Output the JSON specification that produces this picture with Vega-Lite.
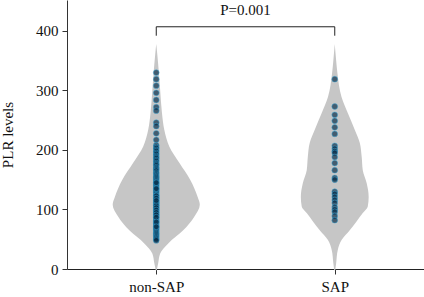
{
  "$schema": "https://vega.github.io/schema/vega-lite/v6.json",
  "width": 357,
  "height": 269,
  "autosize": {"type": "none"},
  "padding": {"left": 67, "top": 0, "right": 0, "bottom": 28},
  "background": "white",
  "config": {
    "view": {"stroke": null},
    "font": "Liberation Serif",
    "axis": {"labelFont": "Liberation Serif", "titleFont": "Liberation Serif", "labelFontSize": 15, "titleFontSize": 15, "labelColor": "#111", "titleColor": "#111", "domainColor": "#333", "tickColor": "#333", "grid": false, "titleFontWeight": "normal"}
  },
  "datasets": {
    "violin": [
      {"group": "non-SAP", "v": 378, "lo": 0.5, "hi": 0.5},
      {"group": "non-SAP", "v": 360, "lo": 0.494, "hi": 0.506},
      {"group": "non-SAP", "v": 329, "lo": 0.485, "hi": 0.515},
      {"group": "non-SAP", "v": 300, "lo": 0.478, "hi": 0.522},
      {"group": "non-SAP", "v": 262, "lo": 0.468, "hi": 0.532},
      {"group": "non-SAP", "v": 234, "lo": 0.455, "hi": 0.545},
      {"group": "non-SAP", "v": 206, "lo": 0.427, "hi": 0.573},
      {"group": "non-SAP", "v": 178, "lo": 0.37, "hi": 0.63},
      {"group": "non-SAP", "v": 150, "lo": 0.31, "hi": 0.69},
      {"group": "non-SAP", "v": 121, "lo": 0.268, "hi": 0.732},
      {"group": "non-SAP", "v": 108, "lo": 0.256, "hi": 0.744},
      {"group": "non-SAP", "v": 88, "lo": 0.287, "hi": 0.713},
      {"group": "non-SAP", "v": 65, "lo": 0.349, "hi": 0.651},
      {"group": "non-SAP", "v": 43, "lo": 0.433, "hi": 0.567},
      {"group": "non-SAP", "v": 26, "lo": 0.478, "hi": 0.522},
      {"group": "non-SAP", "v": 10, "lo": 0.489, "hi": 0.511},
      {"group": "non-SAP", "v": -2, "lo": 0.497, "hi": 0.503},
      {"group": "SAP", "v": 378, "lo": 1.5, "hi": 1.5},
      {"group": "SAP", "v": 350, "lo": 1.492, "hi": 1.508},
      {"group": "SAP", "v": 329, "lo": 1.485, "hi": 1.515},
      {"group": "SAP", "v": 289, "lo": 1.462, "hi": 1.538},
      {"group": "SAP", "v": 262, "lo": 1.427, "hi": 1.573},
      {"group": "SAP", "v": 234, "lo": 1.388, "hi": 1.612},
      {"group": "SAP", "v": 212, "lo": 1.36, "hi": 1.64},
      {"group": "SAP", "v": 188, "lo": 1.349, "hi": 1.651},
      {"group": "SAP", "v": 166, "lo": 1.343, "hi": 1.657},
      {"group": "SAP", "v": 144, "lo": 1.321, "hi": 1.679},
      {"group": "SAP", "v": 121, "lo": 1.31, "hi": 1.69},
      {"group": "SAP", "v": 105, "lo": 1.315, "hi": 1.685},
      {"group": "SAP", "v": 94, "lo": 1.343, "hi": 1.657},
      {"group": "SAP", "v": 65, "lo": 1.416, "hi": 1.584},
      {"group": "SAP", "v": 49, "lo": 1.461, "hi": 1.539},
      {"group": "SAP", "v": 32, "lo": 1.483, "hi": 1.517},
      {"group": "SAP", "v": 10, "lo": 1.492, "hi": 1.508},
      {"group": "SAP", "v": -2, "lo": 1.497, "hi": 1.503}
    ],
    "points": [
      {"group": "non-SAP", "plr": 330}, {"group": "non-SAP", "plr": 319}, {"group": "non-SAP", "plr": 308}, {"group": "non-SAP", "plr": 296}, {"group": "non-SAP", "plr": 284}, {"group": "non-SAP", "plr": 272}, {"group": "non-SAP", "plr": 266}, {"group": "non-SAP", "plr": 246}, {"group": "non-SAP", "plr": 240}, {"group": "non-SAP", "plr": 228}, {"group": "non-SAP", "plr": 217},
      {"group": "non-SAP", "plr": 208}, {"group": "non-SAP", "plr": 205}, {"group": "non-SAP", "plr": 203}, {"group": "non-SAP", "plr": 200}, {"group": "non-SAP", "plr": 198}, {"group": "non-SAP", "plr": 195}, {"group": "non-SAP", "plr": 193}, {"group": "non-SAP", "plr": 190}, {"group": "non-SAP", "plr": 188}, {"group": "non-SAP", "plr": 186}, {"group": "non-SAP", "plr": 183}, {"group": "non-SAP", "plr": 181}, {"group": "non-SAP", "plr": 178}, {"group": "non-SAP", "plr": 176}, {"group": "non-SAP", "plr": 174}, {"group": "non-SAP", "plr": 171}, {"group": "non-SAP", "plr": 169}, {"group": "non-SAP", "plr": 167}, {"group": "non-SAP", "plr": 165}, {"group": "non-SAP", "plr": 162}, {"group": "non-SAP", "plr": 160}, {"group": "non-SAP", "plr": 158}, {"group": "non-SAP", "plr": 156}, {"group": "non-SAP", "plr": 154}, {"group": "non-SAP", "plr": 152}, {"group": "non-SAP", "plr": 150}, {"group": "non-SAP", "plr": 148}, {"group": "non-SAP", "plr": 146}, {"group": "non-SAP", "plr": 144}, {"group": "non-SAP", "plr": 142}, {"group": "non-SAP", "plr": 140}, {"group": "non-SAP", "plr": 138}, {"group": "non-SAP", "plr": 136}, {"group": "non-SAP", "plr": 134}, {"group": "non-SAP", "plr": 132}, {"group": "non-SAP", "plr": 130}, {"group": "non-SAP", "plr": 128}, {"group": "non-SAP", "plr": 126}, {"group": "non-SAP", "plr": 124}, {"group": "non-SAP", "plr": 122}, {"group": "non-SAP", "plr": 120}, {"group": "non-SAP", "plr": 118}, {"group": "non-SAP", "plr": 116}, {"group": "non-SAP", "plr": 114}, {"group": "non-SAP", "plr": 112}, {"group": "non-SAP", "plr": 110}, {"group": "non-SAP", "plr": 108}, {"group": "non-SAP", "plr": 106}, {"group": "non-SAP", "plr": 104}, {"group": "non-SAP", "plr": 102}, {"group": "non-SAP", "plr": 100}, {"group": "non-SAP", "plr": 98}, {"group": "non-SAP", "plr": 96}, {"group": "non-SAP", "plr": 94}, {"group": "non-SAP", "plr": 92}, {"group": "non-SAP", "plr": 90}, {"group": "non-SAP", "plr": 88}, {"group": "non-SAP", "plr": 86}, {"group": "non-SAP", "plr": 84}, {"group": "non-SAP", "plr": 82}, {"group": "non-SAP", "plr": 80}, {"group": "non-SAP", "plr": 78}, {"group": "non-SAP", "plr": 76}, {"group": "non-SAP", "plr": 74}, {"group": "non-SAP", "plr": 72}, {"group": "non-SAP", "plr": 70}, {"group": "non-SAP", "plr": 68}, {"group": "non-SAP", "plr": 66}, {"group": "non-SAP", "plr": 64}, {"group": "non-SAP", "plr": 62}, {"group": "non-SAP", "plr": 60}, {"group": "non-SAP", "plr": 58}, {"group": "non-SAP", "plr": 56}, {"group": "non-SAP", "plr": 54}, {"group": "non-SAP", "plr": 52}, {"group": "non-SAP", "plr": 50}, {"group": "non-SAP", "plr": 48},
      {"group": "non-SAP", "plr": 111}, {"group": "non-SAP", "plr": 107}, {"group": "non-SAP", "plr": 103}, {"group": "non-SAP", "plr": 99}, {"group": "non-SAP", "plr": 95}, {"group": "non-SAP", "plr": 91}, {"group": "non-SAP", "plr": 87}, {"group": "non-SAP", "plr": 123}, {"group": "non-SAP", "plr": 119}, {"group": "non-SAP", "plr": 115}, {"group": "non-SAP", "plr": 135}, {"group": "non-SAP", "plr": 145}, {"group": "non-SAP", "plr": 79}, {"group": "non-SAP", "plr": 71},
      {"group": "SAP", "plr": 319}, {"group": "SAP", "plr": 273}, {"group": "SAP", "plr": 259}, {"group": "SAP", "plr": 249}, {"group": "SAP", "plr": 238}, {"group": "SAP", "plr": 227}, {"group": "SAP", "plr": 207}, {"group": "SAP", "plr": 202}, {"group": "SAP", "plr": 198}, {"group": "SAP", "plr": 195}, {"group": "SAP", "plr": 188}, {"group": "SAP", "plr": 178}, {"group": "SAP", "plr": 166}, {"group": "SAP", "plr": 153}, {"group": "SAP", "plr": 150}, {"group": "SAP", "plr": 130}, {"group": "SAP", "plr": 126}, {"group": "SAP", "plr": 121}, {"group": "SAP", "plr": 116}, {"group": "SAP", "plr": 111}, {"group": "SAP", "plr": 104}, {"group": "SAP", "plr": 100}, {"group": "SAP", "plr": 96}, {"group": "SAP", "plr": 89}, {"group": "SAP", "plr": 82}
    ],
    "annot": [{"label": "P=0.001"}]
  },
  "layer": [
    {
      "data": {"name": "violin"},
      "mark": {"type": "area", "orient": "horizontal", "color": "#c6c6c6", "opacity": 1, "interpolate": "monotone"},
      "encoding": {
        "y": {"field": "v", "type": "quantitative", "scale": {"domain": [0, 452], "nice": false, "zero": false}, "axis": {"values": [0, 100, 200, 300, 400], "title": "PLR levels", "tickSize": 5, "labelPadding": 4, "titlePadding": 20}},
        "x": {"field": "lo", "type": "quantitative", "scale": {"domain": [0, 2], "nice": false, "zero": false}, "axis": null},
        "x2": {"field": "hi"},
        "detail": {"field": "group"}
      }
    },
    {
      "data": {"name": "points"},
      "mark": {"type": "point", "filled": true, "fill": "#052a45", "fillOpacity": 0.68, "stroke": "#3fb4e6", "strokeWidth": 1, "strokeOpacity": 0.45, "size": 34},
      "encoding": {
        "x": {"field": "group", "type": "nominal", "sort": ["non-SAP", "SAP"], "scale": {"paddingInner": 0, "paddingOuter": 0}, "axis": {"title": null, "labelAngle": 0, "tickSize": 5, "labelPadding": 5, "domainColor": "#222"}},
        "y": {"field": "plr", "type": "quantitative", "scale": {"domain": [0, 452], "nice": false, "zero": false}, "axis": null}
      }
    },
    {
      "data": {"name": "annot"},
      "mark": {"type": "rule", "color": "#222", "strokeWidth": 1},
      "encoding": {
        "x": {"datum": 0.5, "type": "quantitative", "scale": {"domain": [0, 2], "nice": false, "zero": false}, "axis": null},
        "x2": {"datum": 1.5},
        "y": {"datum": 407, "type": "quantitative", "scale": {"domain": [0, 452], "nice": false, "zero": false}, "axis": null}
      }
    },
    {
      "data": {"name": "annot"},
      "mark": {"type": "rule", "color": "#222", "strokeWidth": 1},
      "encoding": {
        "x": {"datum": 0.5, "type": "quantitative", "scale": {"domain": [0, 2], "nice": false, "zero": false}, "axis": null},
        "y": {"datum": 392, "type": "quantitative", "scale": {"domain": [0, 452], "nice": false, "zero": false}, "axis": null},
        "y2": {"datum": 407}
      }
    },
    {
      "data": {"name": "annot"},
      "mark": {"type": "rule", "color": "#222", "strokeWidth": 1},
      "encoding": {
        "x": {"datum": 1.5, "type": "quantitative", "scale": {"domain": [0, 2], "nice": false, "zero": false}, "axis": null},
        "y": {"datum": 392, "type": "quantitative", "scale": {"domain": [0, 452], "nice": false, "zero": false}, "axis": null},
        "y2": {"datum": 407}
      }
    },
    {
      "data": {"name": "annot"},
      "mark": {"type": "text", "fontSize": 15, "font": "Liberation Serif", "color": "#111"},
      "encoding": {
        "x": {"datum": 1, "type": "quantitative", "scale": {"domain": [0, 2], "nice": false, "zero": false}, "axis": null},
        "y": {"datum": 435, "type": "quantitative", "scale": {"domain": [0, 452], "nice": false, "zero": false}, "axis": null},
        "text": {"field": "label"}
      }
    }
  ],
  "resolve": {"scale": {"x": "independent", "y": "independent"}, "axis": {"x": "independent", "y": "independent"}}
}
